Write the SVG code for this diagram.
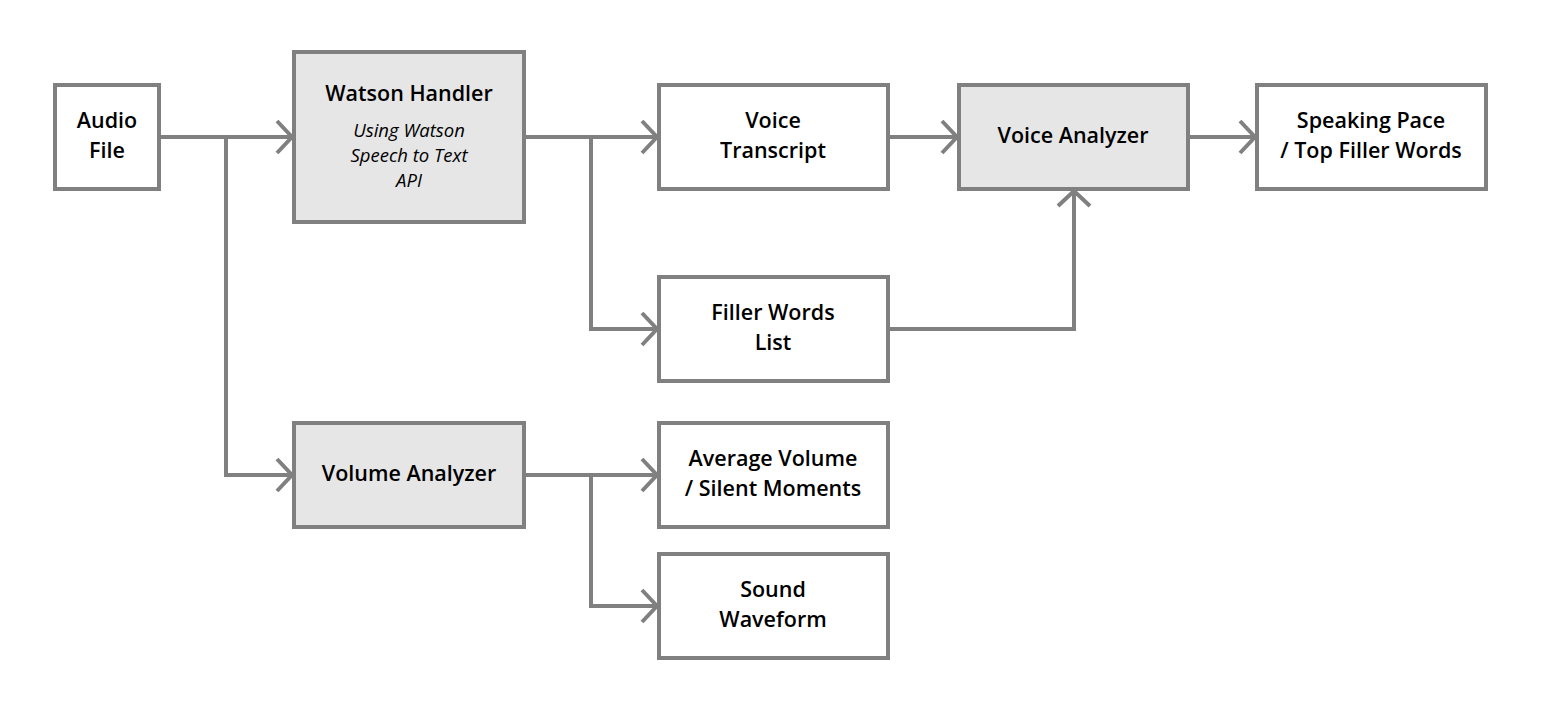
<svg xmlns="http://www.w3.org/2000/svg" width="1542" height="708" viewBox="0 0 1542 708">
<style>
.box{fill:#ffffff;stroke:#808080;stroke-width:4}
.hl{fill:#e6e6e6;stroke:#808080;stroke-width:4}
.t{font-family:"Open Sans","Liberation Sans",sans-serif;font-weight:600;font-size:21.5px;fill:#000;text-anchor:middle}
.i{font-family:"Open Sans","Liberation Sans",sans-serif;font-style:italic;font-size:18.5px;fill:#000;text-anchor:middle}
.c{fill:none;stroke:#808080;stroke-width:4}
</style>
<defs>
<marker id="arr" markerUnits="userSpaceOnUse" markerWidth="24" markerHeight="40" viewBox="-20 -20 24 40" refX="0" refY="0" orient="auto">
<path d="M-15,-16 L0,0 L-15,16" fill="none" stroke="#808080" stroke-width="4"/>
</marker>
</defs>
<rect width="1542" height="708" fill="#ffffff"/>
<g id="connectors">
<path class="c" d="M159,137 H292" marker-end="url(#arr)"/>
<path class="c" d="M226,137 V475 H292" marker-end="url(#arr)"/>
<path class="c" d="M524,137 H657" marker-end="url(#arr)"/>
<path class="c" d="M591,137 V329 H657" marker-end="url(#arr)"/>
<path class="c" d="M888,137 H957" marker-end="url(#arr)"/>
<path class="c" d="M888,329 H1074 V191" marker-end="url(#arr)"/>
<path class="c" d="M1188,137 H1255" marker-end="url(#arr)"/>
<path class="c" d="M524,475 H657" marker-end="url(#arr)"/>
<path class="c" d="M591,475 V606 H657" marker-end="url(#arr)"/>
</g>
<g id="audio-file"><rect class="box" x="55" y="85" width="104" height="104"/><text class="t" x="107" y="128">Audio</text><text class="t" x="107" y="158">File</text></g>
<g id="watson-handler"><rect class="hl" x="294" y="52" width="230" height="170"/><text class="t" x="409" y="101">Watson Handler</text><text class="i" x="409" y="137">Using Watson</text><text class="i" x="409" y="162">Speech to Text</text><text class="i" x="409" y="187">API</text></g>
<g id="voice-transcript"><rect class="box" x="659" y="85" width="229" height="104"/><text class="t" x="773" y="128">Voice</text><text class="t" x="773" y="158">Transcript</text></g>
<g id="voice-analyzer"><rect class="hl" x="959" y="85" width="229" height="104"/><text class="t" x="1073" y="143">Voice Analyzer</text></g>
<g id="speaking-pace"><rect class="box" x="1257" y="85" width="229" height="104"/><text class="t" x="1371" y="128">Speaking Pace</text><text class="t" x="1371" y="158">/ Top Filler Words</text></g>
<g id="filler-words"><rect class="box" x="659" y="277" width="229" height="104"/><text class="t" x="773" y="320">Filler Words</text><text class="t" x="773" y="350">List</text></g>
<g id="volume-analyzer"><rect class="hl" x="294" y="423" width="230" height="104"/><text class="t" x="409" y="481">Volume Analyzer</text></g>
<g id="average-volume"><rect class="box" x="659" y="423" width="229" height="104"/><text class="t" x="773" y="466">Average Volume</text><text class="t" x="773" y="496">/ Silent Moments</text></g>
<g id="sound-waveform"><rect class="box" x="659" y="554" width="229" height="104"/><text class="t" x="773" y="597">Sound</text><text class="t" x="773" y="627">Waveform</text></g>
</svg>
